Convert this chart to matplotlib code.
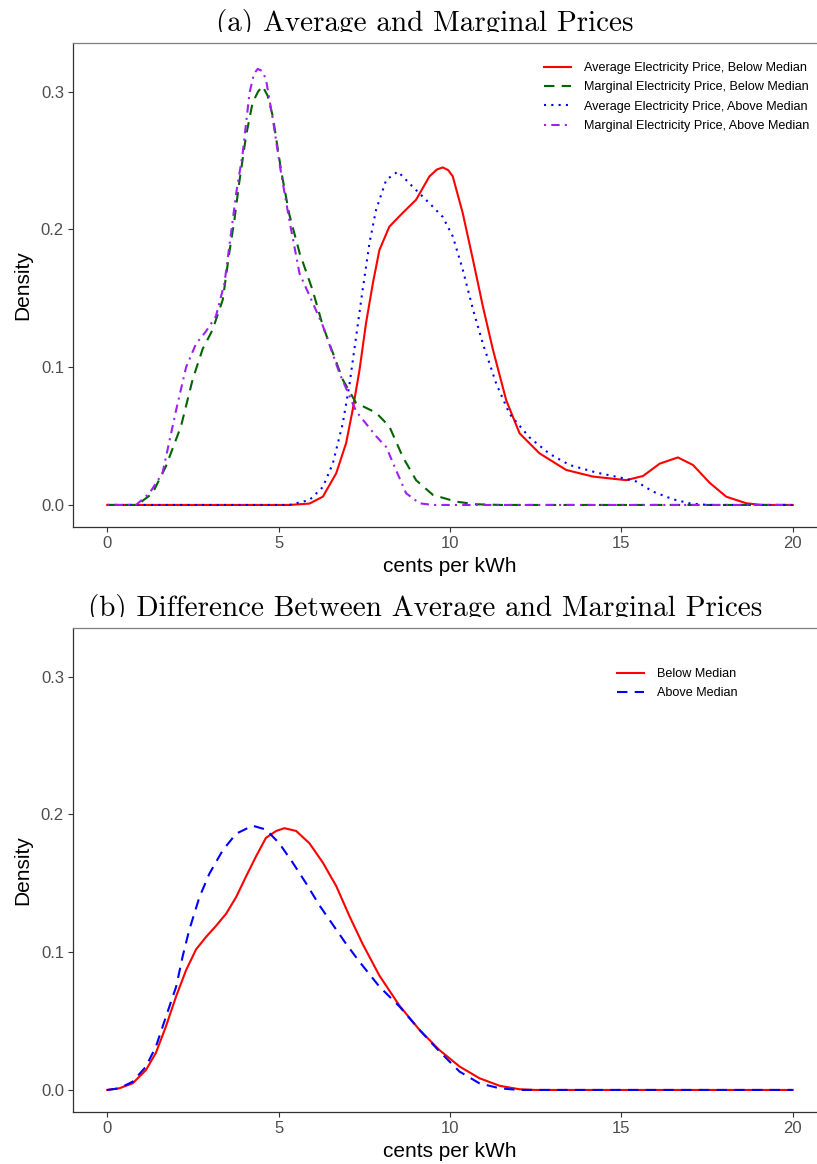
import matplotlib
matplotlib.use("Agg")
import matplotlib.pyplot as plt
from matplotlib.patches import Rectangle

# panel (a): densities
avg_below_x = [0, 5.31, 5.90, 6.29, 6.68, 6.97, 7.16, 7.36, 7.55, 7.75, 7.94, 8.23, 8.62, 9.01, 9.40, 9.62,
               9.79, 9.95, 10.08, 10.37, 10.67, 10.96, 11.25, 11.64, 12.03, 12.61, 13.39, 14.17, 15.14, 15.63,
               16.12, 16.65, 17.09, 17.58, 18.06, 18.65, 19.1, 20]
avg_below_y = [0, 0, 0.001, 0.006, 0.023, 0.045, 0.069, 0.098, 0.132, 0.161, 0.185, 0.202, 0.212, 0.2215, 0.2385,
               0.2435, 0.245, 0.243, 0.2385, 0.212, 0.178, 0.144, 0.113, 0.076, 0.052, 0.0375, 0.0254, 0.0206,
               0.018, 0.021, 0.030, 0.0345, 0.029, 0.016, 0.006, 0.0012, 0, 0]

marg_below_x = [0, 0.9, 1.03, 1.32, 1.71, 2.15, 2.49, 2.78, 3.07, 3.37, 3.56, 3.71, 3.85, 4.05, 4.24, 4.40, 4.53,
                4.68, 4.83, 5.07, 5.31, 5.61, 5.99, 6.29, 6.87, 7.26, 7.84, 8.23, 8.62, 9.01, 9.50, 10.18, 10.76,
                11.5, 20]
marg_below_y = [0, 0, 0.003, 0.0085, 0.028, 0.057, 0.091, 0.113, 0.127, 0.149, 0.183, 0.207, 0.234, 0.268, 0.292,
                0.300, 0.304, 0.297, 0.282, 0.243, 0.211, 0.183, 0.156, 0.130, 0.091, 0.074, 0.067, 0.057, 0.035,
                0.018, 0.0073, 0.0024, 0.0005, 0, 0]

avg_above_x = [0, 5.31, 5.90, 6.29, 6.58, 6.87, 7.07, 7.26, 7.45, 7.65, 7.84, 8.14, 8.48, 8.91, 9.40, 9.79,
               10.08, 10.37, 10.67, 10.96, 11.35, 11.74, 12.32, 12.91, 13.49, 14.27, 14.95, 15.44, 15.92, 16.51,
               16.99, 17.5, 20]
avg_above_y = [0, 0, 0.0036, 0.013, 0.030, 0.059, 0.088, 0.122, 0.156, 0.190, 0.214, 0.236, 0.242, 0.231, 0.219,
               0.209, 0.195, 0.171, 0.142, 0.117, 0.088, 0.066, 0.049, 0.037, 0.029, 0.0235, 0.020, 0.017, 0.0097,
               0.0041, 0.0012, 0, 0]

marg_above_x = [0, 0.84, 1.23, 1.61, 2.01, 2.30, 2.59, 2.88, 3.17, 3.42, 3.61, 3.76, 3.95, 4.15, 4.28, 4.39, 4.52,
                4.63, 4.83, 5.07, 5.31, 5.61, 5.99, 6.29, 6.77, 7.26, 7.84, 8.14, 8.43, 8.72, 9.11, 9.5, 20]
marg_above_y = [0, 0, 0.0085, 0.023, 0.069, 0.100, 0.117, 0.126, 0.137, 0.161, 0.197, 0.226, 0.255, 0.299, 0.313,
                0.3165, 0.315, 0.309, 0.280, 0.241, 0.207, 0.168, 0.147, 0.130, 0.096, 0.068, 0.050, 0.042, 0.025,
                0.0085, 0.0012, 0, 0]

# panel (b): difference between average and marginal price
diff_below_x = [0, 0.35, 0.74, 1.13, 1.42, 1.71, 2.01, 2.30, 2.59, 2.88, 3.17, 3.47, 3.76, 4.05, 4.34, 4.63, 4.93,
                5.17, 5.51, 5.90, 6.29, 6.68, 7.07, 7.45, 7.94, 8.53, 9.11, 9.69, 10.28, 10.86, 11.45, 12.03, 12.5, 20]
diff_below_y = [0, 0.0012, 0.0048, 0.0145, 0.027, 0.046, 0.068, 0.087, 0.102, 0.111, 0.119, 0.128, 0.140, 0.155,
                0.1695, 0.183, 0.188, 0.190, 0.188, 0.179, 0.165, 0.148, 0.126, 0.106, 0.083, 0.061, 0.0436, 0.029,
                0.017, 0.0085, 0.003, 0.0005, 0, 0]

diff_above_x = [0, 0.35, 0.74, 1.13, 1.42, 1.71, 2.01, 2.20, 2.39, 2.69, 2.98, 3.37, 3.76, 4.24, 4.63, 5.02, 5.41,
                5.80, 6.19, 6.58, 6.97, 7.36, 7.94, 8.53, 9.11, 9.69, 10.28, 10.86, 11.45, 12.0, 20]
diff_above_y = [0, 0.0012, 0.006, 0.017, 0.0315, 0.053, 0.075, 0.097, 0.116, 0.140, 0.157, 0.174, 0.186, 0.1918,
                0.189, 0.179, 0.165, 0.150, 0.134, 0.120, 0.106, 0.093, 0.075, 0.0605, 0.0436, 0.028, 0.0133,
                0.0048, 0.0012, 0, 0]

labels_a = ["Average Electricity Price, Below Median", "Marginal Electricity Price, Below Median",
            "Average Electricity Price, Above Median", "Marginal Electricity Price, Above Median"]
labels_b = ["Below Median", "Above Median"]
x_ticks = [0, 5, 10, 15, 20]
y_ticks = [0.0, 0.1, 0.2, 0.3]

plt.rcParams['font.family'] = ['Liberation Sans', 'DejaVu Sans']

W, H = 817, 1164
fig = plt.figure(figsize=(W / 100, H / 100), dpi=100)
LW = 1.5


def style_axes(ax):
    ax.set_xlim(-1, 21)
    ax.set_ylim(-0.016, 0.3353)
    ax.set_xticks(x_ticks)
    ax.set_yticks(y_ticks)
    ax.set_yticklabels(["%.1f" % v for v in y_ticks])
    ax.tick_params(length=3.5, width=0.8, color='#333333', labelcolor='#4D4D4D', labelsize=12, pad=3)
    ax.spines['left'].set_color('#333333')
    ax.spines['bottom'].set_color('#333333')
    ax.spines['top'].set_color('#7F7F7F')
    ax.spines['right'].set_visible(False)
    for s in ax.spines.values():
        s.set_linewidth(0.9)
    ax.set_xlabel("cents per kWh", fontsize=15, labelpad=4)
    ax.set_ylabel("Density", fontsize=15, labelpad=6)


left = 73 / W
width = 754 / W
ax1 = fig.add_axes([left, 1 - 527 / H, width, 484 / H])
ax2 = fig.add_axes([left, 1 - 1112 / H, width, 484 / H])

ax1.plot(avg_below_x, avg_below_y, color='#FF0000', lw=LW, label=labels_a[0])
ax1.plot(marg_below_x, marg_below_y, color='#006400', lw=LW, dashes=(5, 3.5), label=labels_a[1])
ax1.plot(avg_above_x, avg_above_y, color='#0000FF', lw=LW, dashes=(1, 2.5), label=labels_a[2])
ax1.plot(marg_above_x, marg_above_y, color='#A020F0', lw=LW, dashes=(1, 2.5, 4, 2.5), label=labels_a[3])
style_axes(ax1)

ax2.plot(diff_below_x, diff_below_y, color='#FF0000', lw=LW, label=labels_b[0])
ax2.plot(diff_above_x, diff_above_y, color='#0000FF', lw=LW, dashes=(5, 3.5), label=labels_b[1])
style_axes(ax2)

leg_kw = dict(loc='upper left', bbox_transform=fig.transFigure, frameon=False, fontsize=9.1,
              handlelength=2.1, handletextpad=1.1, labelspacing=0.58, borderpad=0, borderaxespad=0)
ax1.legend(bbox_to_anchor=(544 / W, 1 - 62 / H), **leg_kw)
ax2.legend(bbox_to_anchor=(617 / W, 1 - 668 / H), **leg_kw)

# titles, bottom edge clipped like the reference
fig.text(425 / W, 1 - 30.5 / H, "(a) Average and Marginal Prices", family='cmr10', fontsize=21,
         ha='center', va='baseline')
fig.text(425 / W, 1 - 616 / H, "(b) Difference Between Average and Marginal Prices", family='cmr10',
         fontsize=21, ha='center', va='baseline')
fig.patches.append(Rectangle((0, 1 - 41 / H), 1, 9.5 / H, transform=fig.transFigure,
                             facecolor='white', edgecolor='none', zorder=10))
fig.patches.append(Rectangle((0, 1 - 627 / H), 1, 10 / H, transform=fig.transFigure,
                             facecolor='white', edgecolor='none', zorder=10))

fig.savefig("out.png", dpi=100)
